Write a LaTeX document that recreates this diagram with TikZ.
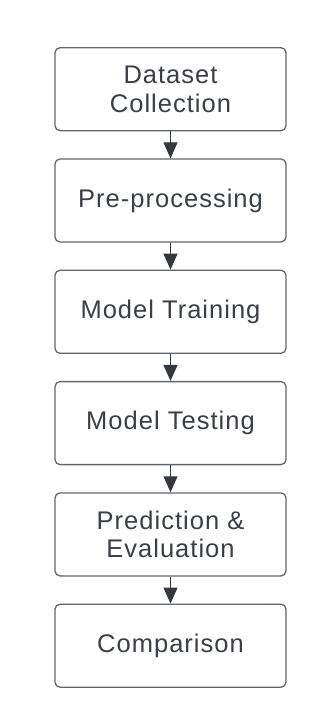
\documentclass[tikz,border=0pt]{standalone}
\usepackage{fontspec}
\setmainfont[LetterSpace=4]{Liberation Sans}
\usetikzlibrary{arrows.meta}
\definecolor{boxline}{RGB}{98,102,110}
\definecolor{txt}{RGB}{58,62,70}
\definecolor{arr}{RGB}{52,57,65}
\tikzset{
  stepbox/.style={draw=boxline, line width=1.3bp, rounded corners=5bp,
    minimum width=231bp, minimum height=83bp, inner sep=0pt,
    align=center, text=txt,
    font=\fontsize{25.5bp}{28.4bp}\selectfont},
  flow/.style={draw=arr, line width=1.1bp,
    -{Triangle[length=16bp,width=14bp]}, shorten >=0pt}
}
\begin{document}
\begin{tikzpicture}[x=1bp,y=-1bp]
\useasboundingbox (0,0) rectangle (333,727);
\node[stepbox] (a) at (170.5,89.2) {Dataset\\Collection};
\node[stepbox] (b) at (170.5,200.5) {Pre-processing};
\node[stepbox] (c) at (170.5,311.8) {Model Training};
\node[stepbox] (d) at (170.5,423.1) {Model Testing};
\node[stepbox] (e) at (170.5,534.4) {Prediction \&\\Evaluation};
\node[stepbox] (f) at (170.5,645.7) {Comparison};
\draw[flow] (a) -- (b);
\draw[flow] (b) -- (c);
\draw[flow] (c) -- (d);
\draw[flow] (d) -- (e);
\draw[flow] (e) -- (f);
\end{tikzpicture}
\end{document}
